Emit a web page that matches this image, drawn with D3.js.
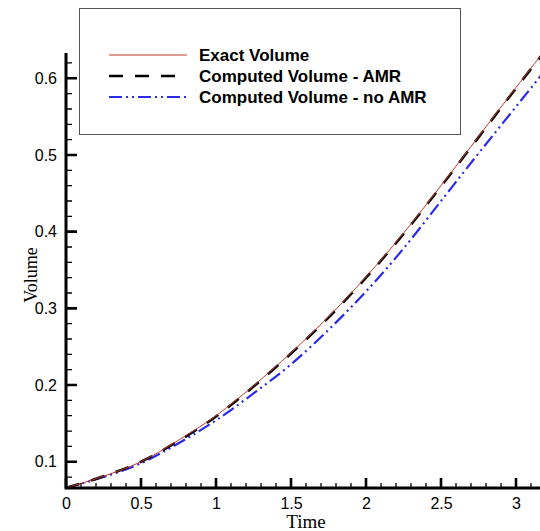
<!DOCTYPE html>
<html>
<head>
<meta charset="utf-8">
<script src="https://cdn.jsdelivr.net/npm/d3@7"></script>
<style>
  body { margin: 0; background: #fff; }
  svg { display: block; }
</style>
</head>
<body>
<div id="chart"></div>
<script>
// values
const times = [0, 0.25, 0.5, 0.75, 1.0, 1.25, 1.5, 1.75, 2.0, 2.25, 2.5, 2.75, 3.0, 3.25]
const exactVolume = [0.066, 0.081, 0.100, 0.128, 0.160, 0.199, 0.242, 0.289, 0.341, 0.398, 0.460, 0.524, 0.588, 0.651]
const amrVolume   = [0.066, 0.081, 0.100, 0.127, 0.159, 0.198, 0.241, 0.288, 0.340, 0.397, 0.459, 0.523, 0.587, 0.650]
const noAmrVolume = [0.066, 0.080, 0.098, 0.124, 0.154, 0.189, 0.227, 0.272, 0.322, 0.378, 0.440, 0.502, 0.563, 0.624]
const xTicks = [0, 0.5, 1, 1.5, 2, 2.5, 3]
const yTicks = [0.1, 0.2, 0.3, 0.4, 0.5, 0.6]
const xMinor = [0.1, 0.2, 0.3, 0.4, 0.6, 0.7, 0.8, 0.9, 1.1, 1.2, 1.3, 1.4, 1.6, 1.7, 1.8, 1.9,
                2.1, 2.2, 2.3, 2.4, 2.6, 2.7, 2.8, 2.9, 3.1]
const yMinor = [0.08, 0.12, 0.14, 0.16, 0.18, 0.22, 0.24, 0.26, 0.28, 0.32, 0.34, 0.36, 0.38,
                0.42, 0.44, 0.46, 0.48, 0.52, 0.54, 0.56, 0.58, 0.62]
const legendLabels = ["Exact Volume", "Computed Volume - AMR", "Computed Volume - no AMR"]

const width = 540, height = 531
const margin = { top: 53, right: 0, bottom: 43, left: 66 }

const svg = d3.select("#chart").append("svg")
  .attr("width", width)
  .attr("height", height)

const x = d3.scaleLinear().domain([0, 3.16]).range([margin.left, width - margin.right])
const y = d3.scaleLinear().domain([0.0657, 0.633]).range([height - margin.bottom, margin.top])
const x0 = x.range()[0], y0 = y.range()[0]

svg.append("clipPath").attr("id", "clip")
  .append("rect")
  .attr("x", margin.left).attr("y", margin.top - 5)
  .attr("width", width - margin.left).attr("height", height - margin.bottom - margin.top + 5)

const series = [
  { name: legendLabels[0], values: exactVolume, color: "#c0392b", w: 1, dash: null },
  { name: legendLabels[1], values: amrVolume, color: "#000", w: 2.6, dash: "14,12" },
  { name: legendLabels[2], values: noAmrVolume, color: "#2b2bea", w: 2.2, dash: "13,4,2,4,2,4" }
]

const line = d3.line()
  .x(d => x(d[0]))
  .y(d => y(d[1]))
  .curve(d3.curveMonotoneX)

// dashed ones first so the thin red line sits on top
svg.append("g").attr("clip-path", "url(#clip)")
  .selectAll("path")
  .data([series[2], series[1], series[0]])
  .join("path")
  .attr("fill", "none")
  .attr("stroke", d => d.color)
  .attr("stroke-width", d => d.w)
  .attr("stroke-dasharray", d => d.dash)
  .attr("d", d => line(times.map((t, i) => [t, d.values[i]])))

const tickFont = g => g.selectAll(".tick text")
  .style("font-family", "'Liberation Sans', Arial, sans-serif")
  .style("font-size", "16px")
  .attr("fill", "#000")

// axes give the labels; tick marks are drawn as paths, pointing inward
svg.append("g")
  .attr("transform", `translate(0,${y0})`)
  .call(d3.axisBottom(x).tickValues(xTicks).tickFormat(d3.format("")).tickSize(0).tickPadding(10))
  .call(g => g.select(".domain").remove())
  .call(tickFont)

svg.append("g")
  .attr("transform", `translate(${x0},0)`)
  .call(d3.axisLeft(y).tickValues(yTicks).tickFormat(d3.format("")).tickSize(0).tickPadding(9))
  .call(g => g.select(".domain").remove())
  .call(tickFont)

const majorPath = xTicks.map(d => `M${x(d)},${y0}v-10`).join("") +
  yTicks.map(d => `M${x0},${y(d)}h11`).join("")
const minorPath = xMinor.map(d => `M${x(d)},${y0}v-5`).join("") +
  yMinor.map(d => `M${x0},${y(d)}h6`).join("")

svg.append("path")
  .attr("fill", "none").attr("stroke", "#000").attr("stroke-width", 1.3)
  .attr("d", minorPath)
svg.append("path")
  .attr("fill", "none").attr("stroke", "#000").attr("stroke-width", 2.6)
  .attr("d", majorPath)

// axis lines
svg.append("path")
  .attr("fill", "none").attr("stroke", "#000").attr("stroke-width", 3)
  .attr("d", `M${x0},${y.range()[1]}V${y0}H${width}`)

// axis titles
svg.append("text")
  .attr("x", 306).attr("y", 528)
  .attr("text-anchor", "middle")
  .style("font-family", "'Liberation Serif', 'Times New Roman', serif")
  .style("font-size", "19px")
  .text("Time")

svg.append("text")
  .attr("transform", "translate(37,275) rotate(-90)")
  .attr("text-anchor", "middle")
  .style("font-family", "'Liberation Serif', 'Times New Roman', serif")
  .style("font-size", "18px")
  .text("Volume")

// legend
const legend = svg.append("g")
legend.append("rect")
  .attr("x", 79.5).attr("y", 8.5)
  .attr("width", 381).attr("height", 126)
  .attr("fill", "#fff")
  .attr("stroke", "#555")
  .attr("stroke-width", 1)

const rows = legend.selectAll(".row")
  .data(series)
  .join("g")
  .attr("class", "row")
  .attr("transform", (d, i) => `translate(0,${55 + i * 21})`)

rows.append("line")
  .attr("x1", 109).attr("x2", 187)
  .attr("stroke", d => d.color)
  .attr("stroke-width", d => d.w)
  .attr("stroke-dasharray", d => d.dash)

rows.append("text")
  .attr("x", 199).attr("dy", "0.36em")
  .style("font-family", "'Liberation Sans', Arial, sans-serif")
  .style("font-size", "17px")
  .style("font-weight", "bold")
  .text(d => d.name)
</script>
</body>
</html>
